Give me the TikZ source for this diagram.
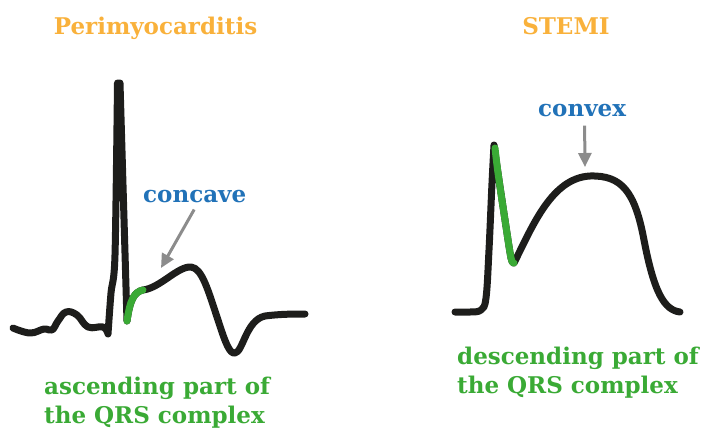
\documentclass[tikz,border=0pt]{standalone}
\usepackage{fontspec}
\setmainfont{DejaVu Serif}
\usetikzlibrary{arrows.meta}
\definecolor{ecgblack}{HTML}{1D1D1B}
\definecolor{qrsgreen}{HTML}{3AAA35}
\definecolor{titleorange}{HTML}{F9B13B}
\definecolor{noteblue}{HTML}{2172B8}
\definecolor{pointergray}{HTML}{8C8C8C}
\begin{document}
\begin{tikzpicture}[x=1pt, y=-1pt,
  ecg/.style = {draw=ecgblack, line width=7pt, line cap=round, line join=round},
  qrs/.style = {draw=qrsgreen, line width=7pt, line cap=round, line join=round},
  pointer/.style = {draw=pointergray, line width=3pt, -{Triangle[length=14pt,width=13pt]}},
  txt/.style = {inner sep=0pt, font=\fontsize{23}{29}\selectfont\bfseries},
  title/.style = {txt, text=titleorange, anchor=base},
  note/.style = {txt, text=noteblue, anchor=base west},
  part/.style = {txt, text=qrsgreen, anchor=north west, align=left}]
  \useasboundingbox (0,0) rectangle (707,432);

  \node[title] (peri) at (155.5,34) {Perimyocarditis};
  \node[title] (stemi) at (566,34) {STEMI};
  \node[note] (concave) at (143,202) {concave};
  \node[note] (convex) at (538,116) {convex};
  \node[part] (asc) at (44,377) {ascending part of\\the QRS complex};
  \node[part] (desc) at (457,347) {descending part of\\the QRS complex};

  % perimyocarditis trace
  \draw[ecg] plot[smooth, tension=0.7] coordinates {(13,328) (30,333) (44,329) (52,330) (58,321) (66,312) (77,315) (88,327) (103,327) (108,334)}
    -- plot[smooth, tension=0.5] coordinates {(108,334) (111,293) (115,255) (117.5,83)}
    -- (120,83) -- (127,321)
    .. controls (130,300) and (134,292) .. (143,290)
    .. controls (160,288) and (178,266) .. (191,267)
    .. controls (202,268) and (208,290) .. (218,320)
    .. controls (226,345) and (230,354) .. (235,353)
    .. controls (243,352) and (246,320) .. (265,316)
    .. controls (280,314) and (295,314) .. (305,314);
  \draw[qrs] (127,321) .. controls (130,300) and (134,292) .. (143,290);

  % stemi trace
  \draw[ecg] plot[smooth, tension=0.6] coordinates {(455,312) (470,312) (481,310) (486,298) (489,250) (492,183) (494,145)}
    -- plot[smooth, tension=0.5] coordinates {(494,145) (498,173) (505,220) (511,258) (514,263)}
    .. controls (533,225) and (552,178) .. (590,176)
    .. controls (622,175) and (635,192) .. (644,240)
    .. controls (654,292) and (664,310) .. (680,312);
  \draw[qrs] plot[smooth, tension=0.5] coordinates {(495,148) (498,173) (505,220) (511,258) (514,263)};

  \coordinate (concavetip) at (161,268);
  \coordinate (convextip) at (585,167);
  \draw[pointer] ([shift={(-0.5,7)}]concave.south) -- (concavetip);
  \draw[pointer] ([shift={(2.5,9)}]convex.south) -- (convextip);
\end{tikzpicture}
\end{document}
